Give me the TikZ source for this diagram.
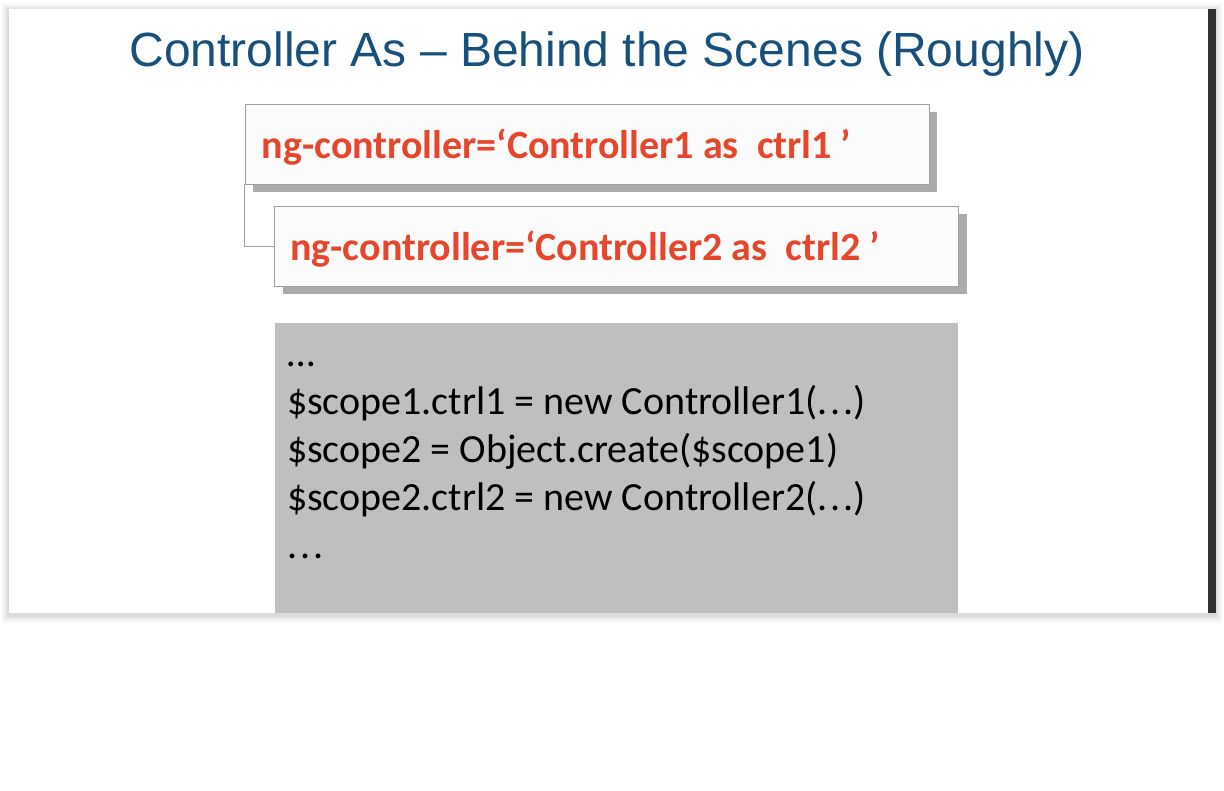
\documentclass[tikz,border=0pt]{standalone}
\usepackage{fontspec}
\setmainfont{Carlito}
\newfontfamily\titlefont{Liberation Sans}
\usetikzlibrary{shadows}
\definecolor{titleblue}{RGB}{24,80,124}
\definecolor{attrred}{RGB}{230,70,44}
\definecolor{boxedge}{RGB}{160,160,160}
\definecolor{boxfill}{RGB}{251,251,251}
\definecolor{codegray}{RGB}{191,191,191}
\definecolor{darkbar}{RGB}{50,50,50}
\newcommand{\wdots}{.\kern3pt.\kern3pt.}
\tikzset{
  attrbox/.style={draw=boxedge, line width=0.8pt, fill=boxfill,
    minimum width=684pt, minimum height=80pt, inner sep=0pt,
    drop shadow={shadow xshift=8pt, shadow yshift=-8pt, fill=black, opacity=0.33}},
  attrtext/.style={anchor=base west, inner sep=0pt, text=attrred,
    font=\bfseries\fontsize{40}{48}\selectfont},
  codebox/.style={fill=codegray, inner sep=0pt, minimum width=683pt, minimum height=290pt},
  codetext/.style={anchor=base west, inner sep=0pt, align=left,
    font=\fontsize{40}{48}\selectfont},
  conn/.style={draw=boxedge, line width=0.8pt}
}
\begin{document}
\begin{tikzpicture}[x=1pt,y=-1pt]
\useasboundingbox (0,0) rectangle (1224,791);
\fill[white] (0,0) rectangle (1224,791);
% soft shadow round the slide
\foreach \d/\o in {8/0.025,6/0.03,4/0.04,2/0.05}
  \fill[black,opacity=\o] (9-\d,9-\d+2) rectangle (1215+\d,613+\d+2);
\fill[white] (9,9) rectangle (1208,613);
\fill[darkbar] (1208,9) rectangle (1216,613);

% title
\node[anchor=base, inner sep=0pt, text=titleblue, font=\titlefont\fontsize{48}{56}\selectfont]
  (title) at (607,67) {Controller As – Behind the Scenes (Roughly)};

% the two nested ng-controller boxes
\node[attrbox] (b1) at (587,144) {};
\node[attrbox] (b2) at (616.5,246) {};
\node[attrtext] (t1) at ([shift={(17,15)}]b1.west) {ng-controller=‘Controller1 as\ \ ctrl1 ’};
\node[attrtext] (t2) at ([shift={(16,15)}]b2.west) {ng-controller=‘Controller2 as\ \ ctrl2 ’};
\draw[conn] (b1.south west) |- (b2.west);

% code panel (the text node's base is the baseline of its last line)
\node[codebox] (code) at (616.5,468) {};
\node[codetext] (lines) at ([shift={(12,236)}]code.north west)
  {…\\\$scope1.ctrl1 = new Controller1(\wdots)\\\$scope2 = Object.create(\$scope1)\\\$scope2.ctrl2 = new Controller2(\wdots)\\\wdots};
\end{tikzpicture}
\end{document}
